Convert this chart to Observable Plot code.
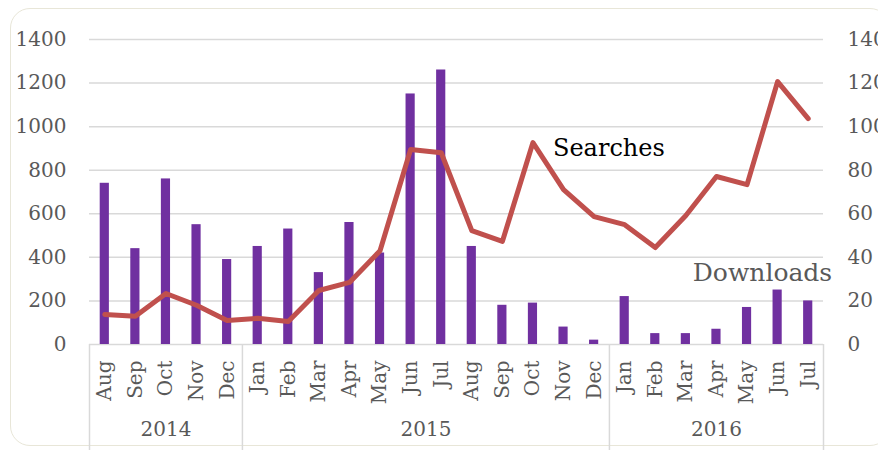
<!DOCTYPE html>
<html><head><meta charset="utf-8">
<script src="https://cdn.jsdelivr.net/npm/d3@7"></script>
<script src="https://cdn.jsdelivr.net/npm/@observablehq/plot@0.6"></script>
<style>
body{margin:0;background:#fff;}
#wrap{position:relative;width:878px;height:450px;overflow:hidden;}
#frame{position:absolute;left:10px;top:8px;width:880px;height:438px;border:1.5px solid #e8e6d8;border-radius:20px;box-sizing:border-box;}
#chart{position:absolute;left:0;top:0;}
</style>
</head><body>
<div id="wrap"><div id="frame"></div><div id="chart"></div></div>
<script>
const months = ["Aug","Sep","Oct","Nov","Dec","Jan","Feb","Mar","Apr","May","Jun","Jul","Aug","Sep","Oct","Nov","Dec","Jan","Feb","Mar","Apr","May","Jun","Jul"];
const years = [2014,2014,2014,2014,2014,2015,2015,2015,2015,2015,2015,2015,2015,2015,2015,2015,2015,2016,2016,2016,2016,2016,2016,2016];
const downloads = [740,440,760,550,390,450,530,330,560,420,1150,1260,450,180,190,80,20,220,50,50,70,170,250,200];
const searches = [13.8,13,23.4,18,11,12,10.6,24.8,28.5,43,89.5,88,52.3,47.3,92.7,71.1,58.7,55,44.5,59.2,77.1,73.4,120.7,103.7];
const yearLabels = ["2014","2015","2016"];
const leftTicks = [0,200,400,600,800,1000,1200,1400];
const rightTicks = [0,20,40,60,80,100,120,140];

const W = 878, H = 450, ML = 89, MR = 55, MT = 39, MB = 106;
const keys = months.map((m, i) => `${years[i]}-${m}`);
const step = (W - ML - MR) / keys.length;
const idx = d3.range(keys.length);

// year groups
const groups = yearLabels.map(y => {
  const ii = idx.filter(i => String(years[i]) === y);
  return {label: y, first: ii[0], last: ii[ii.length - 1]};
});
const yearEven = groups.filter(g => (g.first + g.last) % 2 === 0);
const yearOdd = groups.filter(g => (g.first + g.last) % 2 !== 0);

const chart = Plot.plot({
  width: W, height: H,
  marginLeft: ML, marginRight: MR, marginTop: MT, marginBottom: MB,
  style: {fontFamily: "DejaVu Serif", fontSize: "20px", color: "#595959", background: "transparent"},
  x: {domain: keys, paddingInner: 0.7, paddingOuter: 0.35, round: false, axis: null},
  y: {domain: [0, 1400], axis: null},
  marks: [
    Plot.ruleY(leftTicks, {stroke: "#d9d9d9", strokeWidth: 1.5}),
    Plot.barY(idx, {x: i => keys[i], y: i => downloads[i], fill: "#7030a0"}),
    Plot.line(idx, {x: i => keys[i], y: i => searches[i] * 10, stroke: "#c0504d", strokeWidth: 5, strokeLinejoin: "round", strokeLinecap: "round"}),
    // left axis
    Plot.axisY({anchor: "left", ticks: leftTicks, tickSize: 0, tickPadding: 23, tickFormat: d => String(d), fontSize: 20, fill: "#595959"}),
    // right axis
    Plot.text(rightTicks, {y: d => d * 10, text: d => String(d), frameAnchor: "right", textAnchor: "start", dx: 24, fontSize: 20, fill: "#595959"}),
    // multi-level category axis
    Plot.ruleX(groups, {x: g => keys[g.first], dx: -step / 2, insetTop: H - MT - MB, insetBottom: -MB, stroke: "#d9d9d9", strokeWidth: 1.5}),
    Plot.ruleX(groups.slice(-1), {x: g => keys[g.last], dx: step / 2, insetTop: H - MT - MB, insetBottom: -MB, stroke: "#d9d9d9", strokeWidth: 1.5}),
    Plot.text(idx, {x: i => keys[i], text: i => months[i], frameAnchor: "bottom", rotate: -90, textAnchor: "end", lineAnchor: "middle", dy: 16, fontSize: 20, fill: "#595959"}),
    Plot.text(yearEven, {x: g => keys[(g.first + g.last) / 2], text: "label", frameAnchor: "bottom", dy: 91, fontSize: 20, fill: "#595959"}),
    Plot.text(yearOdd, {x: g => keys[(g.first + g.last - 1) / 2], text: "label", frameAnchor: "bottom", dx: step / 2, dy: 91, fontSize: 20, fill: "#595959"}),
    // series labels
    Plot.text(["Searches"], {x: () => keys[14], y: () => searches[14] * 10, text: d => d, textAnchor: "start", dx: 20, dy: 6, fontSize: 24, fill: "#000000"}),
    Plot.text(["Downloads"], {x: () => keys[23], y: () => downloads[23], text: d => d, textAnchor: "end", dx: 24, dy: -28, fontSize: 25, fill: "#595959"})
  ]
});
document.getElementById("chart").appendChild(chart);
</script>
</body></html>
